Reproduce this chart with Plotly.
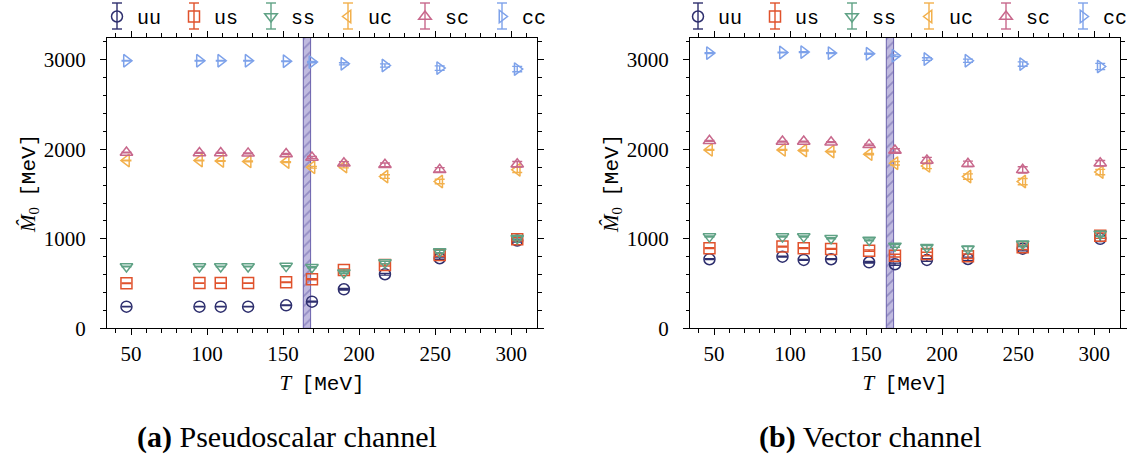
import plotly.graph_objects as go

# Temperatures of the ensembles [MeV]
temps = [47, 95, 109, 127, 152, 169, 190, 217, 253, 304]

flavours = ["uu", "us", "ss", "uc", "sc", "cc"]
colors = ["#2e2f6e", "#e0522c", "#5fa285", "#f2b04c", "#c8688c", "#7ea2ea"]
symbols = ["circle-open", "square-open", "triangle-down-open",
           "triangle-left-open", "triangle-up-open", "triangle-right-open"]

# Pseudoscalar channel: ground-state mass estimates [MeV]
ps_uu = [242, 242, 242, 242, 257, 298, 436, 604, 783, 980]
ps_us = [503, 505, 505, 505, 515, 548, 652, 708, 820, 996]
ps_ss = [690, 690, 690, 690, 695, 682, 622, 734, 857, 1007]
ps_uc = [1875, 1875, 1870, 1865, 1858, 1800, 1808, 1696, 1640, 1771]
ps_sc = [1965, 1960, 1960, 1955, 1948, 1908, 1845, 1827, 1771, 1834]
ps_cc = [2990, 2990, 2990, 2990, 2985, 2975, 2956, 2937, 2908, 2897]

ps_uu_err = [3, 3, 3, 3, 4, 6, 8, 10, 12, 15]
ps_us_err = [3, 3, 3, 3, 4, 6, 10, 12, 15, 18]
ps_ss_err = [3, 3, 3, 3, 4, 6, 10, 14, 16, 20]
ps_uc_err = [4, 4, 4, 4, 5, 10, 15, 20, 25, 30]
ps_sc_err = [4, 4, 4, 4, 5, 12, 18, 20, 25, 30]
ps_cc_err = [3, 3, 3, 3, 4, 8, 12, 18, 25, 30]

# Vector channel: ground-state mass estimates [MeV]
v_uu = [772, 801, 764, 772, 738, 716, 764, 775, 890, 1000]
v_us = [895, 913, 895, 887, 868, 812, 830, 805, 905, 1035]
v_ss = [1025, 1025, 1025, 1007, 988, 921, 905, 890, 945, 1055]
v_uc = [1994, 1994, 1987, 1975, 1946, 1845, 1815, 1696, 1640, 1746]
v_sc = [2095, 2087, 2087, 2080, 2050, 1987, 1875, 1838, 1771, 1845]
v_cc = [3076, 3083, 3087, 3076, 3068, 3046, 3009, 2990, 2953, 2926]

v_uu_err = [5, 5, 5, 5, 8, 12, 15, 20, 25, 30]
v_us_err = [5, 5, 5, 5, 8, 15, 20, 25, 25, 30]
v_ss_err = [6, 6, 6, 6, 10, 15, 20, 25, 25, 30]
v_uc_err = [5, 5, 5, 5, 8, 20, 30, 30, 35, 30]
v_sc_err = [5, 5, 5, 5, 8, 20, 35, 30, 35, 30]
v_cc_err = [4, 4, 4, 4, 6, 10, 15, 18, 25, 35]

# Pseudo-critical temperature and its uncertainty [MeV]
t_pc = 165.7
t_pc_err = 2.4

y_max = 3250

ps_vals = [ps_uu, ps_us, ps_ss, ps_uc, ps_sc, ps_cc]
ps_errs = [ps_uu_err, ps_us_err, ps_ss_err, ps_uc_err, ps_sc_err, ps_cc_err]
v_vals = [v_uu, v_us, v_ss, v_uc, v_sc, v_cc]
v_errs = [v_uu_err, v_us_err, v_ss_err, v_uc_err, v_sc_err, v_cc_err]

serif = "Liberation Serif"
mono = "Liberation Mono"
W, H = 1141, 458

fig = go.Figure()

panels = [("x", "y", ps_vals, ps_errs, "legend"),
          ("x2", "y2", v_vals, v_errs, "legend2")]

for xa, ya, vals, errs, leg in panels:
    # shaded band marking the pseudo-critical temperature
    fig.add_trace(go.Scatter(
        x=[t_pc - t_pc_err, t_pc + t_pc_err, t_pc + t_pc_err, t_pc - t_pc_err, t_pc - t_pc_err],
        y=[0, 0, y_max, y_max, 0],
        xaxis=xa, yaxis=ya, mode="lines", fill="toself",
        line=dict(color="rgba(95,85,165,0.9)", width=1),
        fillcolor="rgba(140,130,195,0.55)",
        fillpattern=dict(shape="/", fgcolor="rgba(95,85,165,0.9)",
                         bgcolor="rgba(170,162,212,0.75)", size=7, solidity=0.25),
        showlegend=False, hoverinfo="skip"))
    for name, col, sym, v, e in zip(flavours, colors, symbols, vals, errs):
        fig.add_trace(go.Scatter(
            x=temps, y=v, xaxis=xa, yaxis=ya, mode="markers", name=name,
            legend=leg,
            marker=dict(symbol=sym, size=11, color=col, line=dict(width=1.5, color=col)),
            error_y=dict(type="data", array=e, visible=True, color=col,
                         thickness=1.4, width=5)))

axis_common = dict(
    showline=True, linecolor="black", linewidth=1, mirror="allticks",
    ticks="outside", ticklen=6, tickwidth=1, tickcolor="black",
    showgrid=False, zeroline=False, automargin=False,
    tickfont=dict(family=serif, size=21, color="black"),
)

x_common = dict(axis_common, range=[34.2, 317], dtick=50, tick0=0,
                minor=dict(dtick=10, ticklen=3.5, ticks="outside", tickcolor="black", showgrid=False),
                title=dict(text="<i>T</i>  <span style='font-family:Liberation Mono'>[MeV]</span>",
                           font=dict(family=serif, size=21, color="black"), standoff=10))
y_common = dict(axis_common, range=[0, y_max], dtick=1000, tick0=0, ticklabelstandoff=10,
                minor=dict(dtick=200, ticklen=3.5, ticks="outside", tickcolor="black", showgrid=False),
                title=dict(text="<i>M\u0302</i><sub>0</sub>  <span style='font-family:Liberation Mono'>[MeV]</span>",
                           font=dict(family=serif, size=21, color="black"), standoff=2))

y_dom = [1 - 328.3 / H, 1 - 37.5 / H]

# legend layout: entries are entry_width + 45 px apart, symbol 20 px from entry start
entry_width = 32
glyph_step = entry_width + 45
legend_left = [97, 678]
glyph_top, glyph_bottom = 3, 29

legend_common = dict(orientation="h", y=1 + 3 / H, xanchor="left", yanchor="top",
                     font=dict(family=mono, size=20, color="black"),
                     entrywidth=entry_width, entrywidthmode="pixels", itemwidth=30,
                     bgcolor="rgba(0,0,0,0)", tracegroupgap=0)

# vertical error-bar strokes drawn behind the legend symbols
shapes = []
for x0 in legend_left:
    for i, col in enumerate(colors):
        cx = x0 + 20 + i * glyph_step
        shapes.append(dict(type="line", xref="paper", yref="paper",
                           x0=cx / W, x1=cx / W, y0=1 - glyph_top / H, y1=1 - glyph_bottom / H,
                           line=dict(color=col, width=1.4)))
        for gy in (glyph_top, glyph_bottom):
            shapes.append(dict(type="line", xref="paper", yref="paper",
                               x0=(cx - 5) / W, x1=(cx + 5) / W, y0=1 - gy / H, y1=1 - gy / H,
                               line=dict(color=col, width=1.4)))

fig.update_layout(
    width=W, height=H,
    margin=dict(l=0, r=0, t=0, b=0, autoexpand=False),
    paper_bgcolor="white", plot_bgcolor="white",
    xaxis=dict(x_common, domain=[107 / W, 537 / W], anchor="y"),
    yaxis=dict(y_common, domain=y_dom, anchor="x"),
    xaxis2=dict(x_common, domain=[690 / W, 1120 / W], anchor="y2"),
    yaxis2=dict(y_common, domain=y_dom, anchor="x2"),
    legend=dict(legend_common, x=legend_left[0] / W),
    legend2=dict(legend_common, x=legend_left[1] / W),
    shapes=shapes,
    annotations=[
        dict(text="<b>(a)</b> Pseudoscalar channel", x=287 / W, y=1 - 437 / H,
             xref="paper", yref="paper", xanchor="center", yanchor="middle", showarrow=False,
             font=dict(family=serif, size=30, color="black")),
        dict(text="<b>(b)</b> Vector channel", x=870 / W, y=1 - 437 / H,
             xref="paper", yref="paper", xanchor="center", yanchor="middle", showarrow=False,
             font=dict(family=serif, size=30, color="black")),
    ],
)

fig.write_html("out.html")
